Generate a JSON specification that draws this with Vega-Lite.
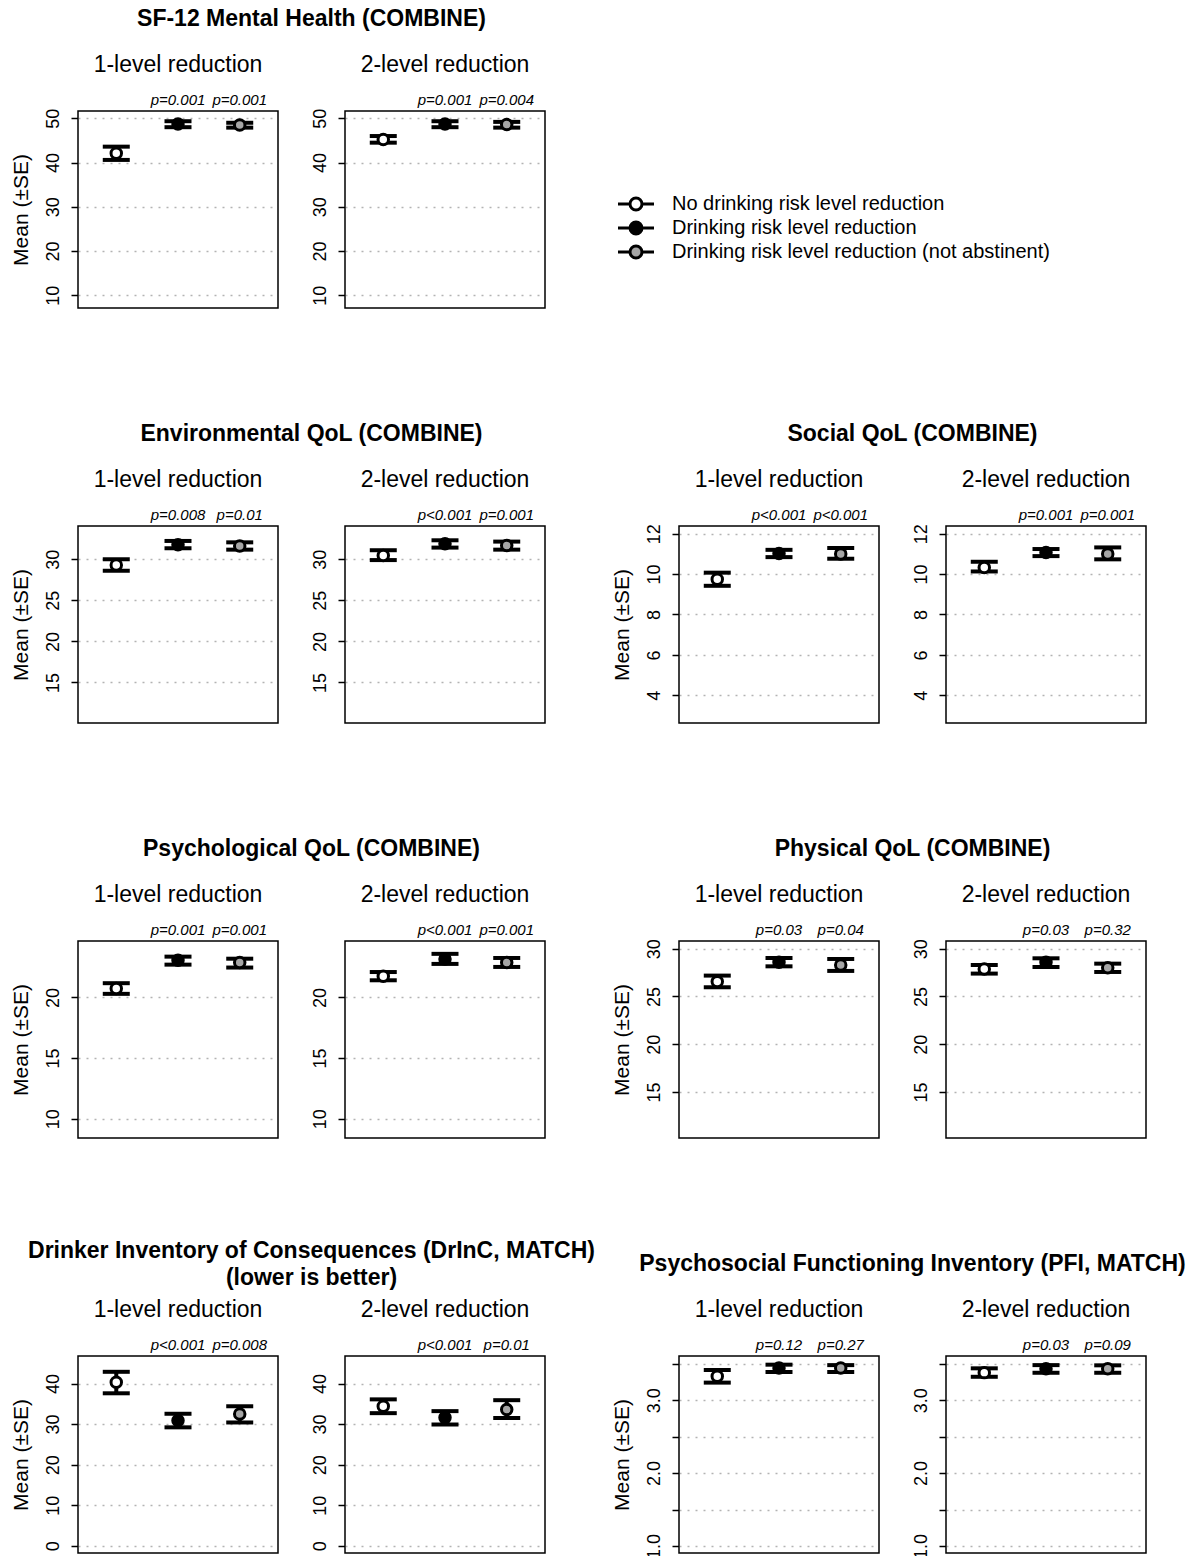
{
"$schema": "https://vega.github.io/schema/vega-lite/v6.json",
"background": "white",
"padding": {"left": 9, "top": 8, "right": 5, "bottom": 5},
"config": {
 "font": "Liberation Sans",
 "view": {"stroke": "black", "strokeWidth": 1.5},
 "axisY": {"domain": false, "labelAngle": -90, "labelFontSize": 18, "labelColor": "black", "labelPadding": 9, "labelFlush": false, "labelOverlap": false, "labelBound": false, "tickColor": "black", "tickSize": 7, "tickWidth": 1.5, "grid": true, "gridColor": "#b3b3b3", "gridDash": [2, 6], "gridWidth": 1.5, "titleFontSize": 21, "titleFontWeight": "normal", "titleColor": "black", "titlePadding": 13},
 "title": {"color": "black", "font": "Liberation Sans"},
 "legend": {"orient": "none", "legendX": 548, "legendY": 83, "symbolType": "M-3,0L-1,0M1,0L3,0M-1,0A1,1,0,1,0,1,0A1,1,0,1,0,-1,0Z", "symbolSize": 144, "symbolStrokeColor": "black", "symbolStrokeWidth": 3, "symbolOpacity": 1, "labelFontSize": 20, "labelColor": "black", "labelOffset": 26, "labelLimit": 700, "rowPadding": 0, "padding": 0}
},
"datasets": {"d": [
 {"m":"SF","lev":1,"x":1,"g":"No drinking risk level reduction","mean":42.1,"lo":40.6,"hi":43.6,"p":null},
 {"m":"SF","lev":1,"x":2,"g":"Drinking risk level reduction","mean":48.7,"lo":48.0,"hi":49.35,"p":"p=0.001"},
 {"m":"SF","lev":1,"x":3,"g":"Drinking risk level reduction (not abstinent)","mean":48.5,"lo":47.9,"hi":49.0,"p":"p=0.001"},
 {"m":"SF","lev":2,"x":1,"g":"No drinking risk level reduction","mean":45.2,"lo":44.5,"hi":46.0,"p":null},
 {"m":"SF","lev":2,"x":2,"g":"Drinking risk level reduction","mean":48.7,"lo":48.0,"hi":49.35,"p":"p=0.001"},
 {"m":"SF","lev":2,"x":3,"g":"Drinking risk level reduction (not abstinent)","mean":48.6,"lo":47.9,"hi":49.2,"p":"p=0.004"},
 {"m":"EN","lev":1,"x":1,"g":"No drinking risk level reduction","mean":29.3,"lo":28.6,"hi":30.0,"p":null},
 {"m":"EN","lev":1,"x":2,"g":"Drinking risk level reduction","mean":31.78,"lo":31.34,"hi":32.23,"p":"p=0.008"},
 {"m":"EN","lev":1,"x":3,"g":"Drinking risk level reduction (not abstinent)","mean":31.62,"lo":31.17,"hi":32.06,"p":"p=0.01"},
 {"m":"EN","lev":2,"x":1,"g":"No drinking risk level reduction","mean":30.45,"lo":29.9,"hi":31.1,"p":null},
 {"m":"EN","lev":2,"x":2,"g":"Drinking risk level reduction","mean":31.88,"lo":31.42,"hi":32.31,"p":"p<0.001"},
 {"m":"EN","lev":2,"x":3,"g":"Drinking risk level reduction (not abstinent)","mean":31.68,"lo":31.17,"hi":32.15,"p":"p=0.001"},
 {"m":"SO","lev":1,"x":1,"g":"No drinking risk level reduction","mean":9.74,"lo":9.42,"hi":10.07,"p":null},
 {"m":"SO","lev":1,"x":2,"g":"Drinking risk level reduction","mean":11.02,"lo":10.84,"hi":11.2,"p":"p<0.001"},
 {"m":"SO","lev":1,"x":3,"g":"Drinking risk level reduction (not abstinent)","mean":11.0,"lo":10.76,"hi":11.29,"p":"p<0.001"},
 {"m":"SO","lev":2,"x":1,"g":"No drinking risk level reduction","mean":10.33,"lo":10.13,"hi":10.61,"p":null},
 {"m":"SO","lev":2,"x":2,"g":"Drinking risk level reduction","mean":11.07,"lo":10.89,"hi":11.24,"p":"p=0.001"},
 {"m":"SO","lev":2,"x":3,"g":"Drinking risk level reduction (not abstinent)","mean":11.0,"lo":10.73,"hi":11.32,"p":"p=0.001"},
 {"m":"PS","lev":1,"x":1,"g":"No drinking risk level reduction","mean":20.74,"lo":20.3,"hi":21.18,"p":null},
 {"m":"PS","lev":1,"x":2,"g":"Drinking risk level reduction","mean":23.07,"lo":22.71,"hi":23.37,"p":"p=0.001"},
 {"m":"PS","lev":1,"x":3,"g":"Drinking risk level reduction (not abstinent)","mean":22.88,"lo":22.47,"hi":23.2,"p":"p=0.001"},
 {"m":"PS","lev":2,"x":1,"g":"No drinking risk level reduction","mean":21.75,"lo":21.42,"hi":22.1,"p":null},
 {"m":"PS","lev":2,"x":2,"g":"Drinking risk level reduction","mean":23.18,"lo":22.77,"hi":23.6,"p":"p<0.001"},
 {"m":"PS","lev":2,"x":3,"g":"Drinking risk level reduction (not abstinent)","mean":22.88,"lo":22.52,"hi":23.26,"p":"p=0.001"},
 {"m":"PH","lev":1,"x":1,"g":"No drinking risk level reduction","mean":26.55,"lo":25.96,"hi":27.18,"p":null},
 {"m":"PH","lev":1,"x":2,"g":"Drinking risk level reduction","mean":28.57,"lo":28.15,"hi":29.02,"p":"p=0.03"},
 {"m":"PH","lev":1,"x":3,"g":"Drinking risk level reduction (not abstinent)","mean":28.29,"lo":27.67,"hi":28.92,"p":"p=0.04"},
 {"m":"PH","lev":2,"x":1,"g":"No drinking risk level reduction","mean":27.87,"lo":27.39,"hi":28.29,"p":null},
 {"m":"PH","lev":2,"x":2,"g":"Drinking risk level reduction","mean":28.57,"lo":28.08,"hi":28.99,"p":"p=0.03"},
 {"m":"PH","lev":2,"x":3,"g":"Drinking risk level reduction (not abstinent)","mean":28.0,"lo":27.56,"hi":28.43,"p":"p=0.32"},
 {"m":"DR","lev":1,"x":1,"g":"No drinking risk level reduction","mean":40.3,"lo":37.6,"hi":42.9,"p":null},
 {"m":"DR","lev":1,"x":2,"g":"Drinking risk level reduction","mean":30.9,"lo":29.2,"hi":32.55,"p":"p<0.001"},
 {"m":"DR","lev":1,"x":3,"g":"Drinking risk level reduction (not abstinent)","mean":32.5,"lo":30.4,"hi":34.4,"p":"p=0.008"},
 {"m":"DR","lev":2,"x":1,"g":"No drinking risk level reduction","mean":34.4,"lo":32.7,"hi":36.1,"p":null},
 {"m":"DR","lev":2,"x":2,"g":"Drinking risk level reduction","mean":31.6,"lo":29.9,"hi":33.2,"p":"p<0.001"},
 {"m":"DR","lev":2,"x":3,"g":"Drinking risk level reduction (not abstinent)","mean":33.6,"lo":31.5,"hi":35.9,"p":"p=0.01"},
 {"m":"PF","lev":1,"x":1,"g":"No drinking risk level reduction","mean":3.327,"lo":3.24,"hi":3.413,"p":null},
 {"m":"PF","lev":1,"x":2,"g":"Drinking risk level reduction","mean":3.44,"lo":3.386,"hi":3.486,"p":"p=0.12"},
 {"m":"PF","lev":1,"x":3,"g":"Drinking risk level reduction (not abstinent)","mean":3.44,"lo":3.386,"hi":3.48,"p":"p=0.27"},
 {"m":"PF","lev":2,"x":1,"g":"No drinking risk level reduction","mean":3.377,"lo":3.32,"hi":3.436,"p":null},
 {"m":"PF","lev":2,"x":2,"g":"Drinking risk level reduction","mean":3.43,"lo":3.375,"hi":3.48,"p":"p=0.03"},
 {"m":"PF","lev":2,"x":3,"g":"Drinking risk level reduction (not abstinent)","mean":3.43,"lo":3.375,"hi":3.477,"p":"p=0.09"}
]},
"columns": 7,
"spacing": {"row": 218, "column": 0},
"bounds": "flush",
"align": "each",
"concat": [
 {"width": 200, "height": 197, "title": {"text": "1-level reduction", "fontSize": 23, "fontWeight": "normal", "frame": "group", "anchor": "middle", "offset": 16},
  "data": {"name": "d"}, "transform": [{"filter": "datum.m == 'SF' && datum.lev == 1"}],
  "encoding": {"x": {"field": "x", "type": "quantitative", "scale": {"domain": [0.38, 3.62]}, "axis": null}},
  "layer": [
   {"mark": {"type": "rule", "strokeWidth": 4, "color": "black"}, "encoding": {"y": {"field": "lo", "type": "quantitative", "scale": {"domain": [7.13, 51.66], "zero": false, "nice": false}, "axis": {"values": [10, 20, 30, 40, 50], "title": "Mean (±SE)"}}, "y2": {"field": "hi"}}},
   {"mark": {"type": "tick", "orient": "horizontal", "size": 27, "thickness": 4, "color": "black", "opacity": 1}, "encoding": {"y": {"field": "lo", "type": "quantitative", "scale": {"domain": [7.13, 51.66], "zero": false, "nice": false}, "axis": {"values": [10, 20, 30, 40, 50], "title": "Mean (±SE)"}}}},
   {"mark": {"type": "tick", "orient": "horizontal", "size": 27, "thickness": 4, "color": "black", "opacity": 1}, "encoding": {"y": {"field": "hi", "type": "quantitative", "scale": {"domain": [7.13, 51.66], "zero": false, "nice": false}, "axis": {"values": [10, 20, 30, 40, 50], "title": "Mean (±SE)"}}}},
   {"mark": {"type": "point", "shape": "circle", "filled": true, "size": 110, "stroke": "black", "strokeWidth": 3, "opacity": 1}, "encoding": {"y": {"field": "mean", "type": "quantitative", "scale": {"domain": [7.13, 51.66], "zero": false, "nice": false}, "axis": {"values": [10, 20, 30, 40, 50], "title": "Mean (±SE)"}}, "fill": {"field": "g", "type": "nominal", "title": null, "scale": {"domain": ["No drinking risk level reduction", "Drinking risk level reduction", "Drinking risk level reduction (not abstinent)"], "range": ["white", "black", "#a6a6a6"]}}}},
   {"transform": [{"filter": "isValid(datum.p)"}], "mark": {"type": "text", "fontStyle": "italic", "fontSize": 15, "baseline": "alphabetic", "dy": -6, "color": "black"}, "encoding": {"y": {"datum": 51.66, "type": "quantitative", "scale": {"domain": [7.13, 51.66], "zero": false, "nice": false}, "axis": {"values": [10, 20, 30, 40, 50], "title": "Mean (±SE)"}}, "text": {"field": "p"}}}
  ]},
 {"width": 67, "height": 197, "view": {"stroke": null}, "data": {"values": []}, "mark": "point", "title": {"text": "SF-12 Mental Health (COMBINE)", "fontSize": 23, "fontWeight": "bold", "anchor": "middle", "frame": "group", "offset": 80}},
 {"width": 200, "height": 197, "title": {"text": "2-level reduction", "fontSize": 23, "fontWeight": "normal", "frame": "group", "anchor": "middle", "offset": 16},
  "data": {"name": "d"}, "transform": [{"filter": "datum.m == 'SF' && datum.lev == 2"}],
  "encoding": {"x": {"field": "x", "type": "quantitative", "scale": {"domain": [0.38, 3.62]}, "axis": null}},
  "layer": [
   {"mark": {"type": "rule", "strokeWidth": 4, "color": "black"}, "encoding": {"y": {"field": "lo", "type": "quantitative", "scale": {"domain": [7.13, 51.66], "zero": false, "nice": false}, "axis": {"values": [10, 20, 30, 40, 50], "title": null}}, "y2": {"field": "hi"}}},
   {"mark": {"type": "tick", "orient": "horizontal", "size": 27, "thickness": 4, "color": "black", "opacity": 1}, "encoding": {"y": {"field": "lo", "type": "quantitative", "scale": {"domain": [7.13, 51.66], "zero": false, "nice": false}, "axis": {"values": [10, 20, 30, 40, 50], "title": null}}}},
   {"mark": {"type": "tick", "orient": "horizontal", "size": 27, "thickness": 4, "color": "black", "opacity": 1}, "encoding": {"y": {"field": "hi", "type": "quantitative", "scale": {"domain": [7.13, 51.66], "zero": false, "nice": false}, "axis": {"values": [10, 20, 30, 40, 50], "title": null}}}},
   {"mark": {"type": "point", "shape": "circle", "filled": true, "size": 110, "stroke": "black", "strokeWidth": 3, "opacity": 1}, "encoding": {"y": {"field": "mean", "type": "quantitative", "scale": {"domain": [7.13, 51.66], "zero": false, "nice": false}, "axis": {"values": [10, 20, 30, 40, 50], "title": null}}, "fill": {"field": "g", "type": "nominal", "title": null, "scale": {"domain": ["No drinking risk level reduction", "Drinking risk level reduction", "Drinking risk level reduction (not abstinent)"], "range": ["white", "black", "#a6a6a6"]}}}},
   {"transform": [{"filter": "isValid(datum.p)"}], "mark": {"type": "text", "fontStyle": "italic", "fontSize": 15, "baseline": "alphabetic", "dy": -6, "color": "black"}, "encoding": {"y": {"datum": 51.66, "type": "quantitative", "scale": {"domain": [7.13, 51.66], "zero": false, "nice": false}, "axis": {"values": [10, 20, 30, 40, 50], "title": null}}, "text": {"field": "p"}}}
  ]},
 {"width": 134, "height": 1, "view": {"stroke": null}, "data": {"values": []}, "mark": "point"},
 {"width": 1, "height": 1, "view": {"stroke": null}, "data": {"values": []}, "mark": "point"},
 {"width": 1, "height": 1, "view": {"stroke": null}, "data": {"values": []}, "mark": "point"},
 {"width": 1, "height": 1, "view": {"stroke": null}, "data": {"values": []}, "mark": "point"},

 {"width": 200, "height": 197, "title": {"text": "1-level reduction", "fontSize": 23, "fontWeight": "normal", "frame": "group", "anchor": "middle", "offset": 16},
  "data": {"name": "d"}, "transform": [{"filter": "datum.m == 'EN' && datum.lev == 1"}],
  "encoding": {"x": {"field": "x", "type": "quantitative", "scale": {"domain": [0.38, 3.62]}, "axis": null}},
  "layer": [
   {"mark": {"type": "rule", "strokeWidth": 4, "color": "black"}, "encoding": {"y": {"field": "lo", "type": "quantitative", "scale": {"domain": [10.06, 34.05], "zero": false, "nice": false}, "axis": {"values": [15, 20, 25, 30], "title": "Mean (±SE)"}}, "y2": {"field": "hi"}}},
   {"mark": {"type": "tick", "orient": "horizontal", "size": 27, "thickness": 4, "color": "black", "opacity": 1}, "encoding": {"y": {"field": "lo", "type": "quantitative", "scale": {"domain": [10.06, 34.05], "zero": false, "nice": false}, "axis": {"values": [15, 20, 25, 30], "title": "Mean (±SE)"}}}},
   {"mark": {"type": "tick", "orient": "horizontal", "size": 27, "thickness": 4, "color": "black", "opacity": 1}, "encoding": {"y": {"field": "hi", "type": "quantitative", "scale": {"domain": [10.06, 34.05], "zero": false, "nice": false}, "axis": {"values": [15, 20, 25, 30], "title": "Mean (±SE)"}}}},
   {"mark": {"type": "point", "shape": "circle", "filled": true, "size": 110, "stroke": "black", "strokeWidth": 3, "opacity": 1}, "encoding": {"y": {"field": "mean", "type": "quantitative", "scale": {"domain": [10.06, 34.05], "zero": false, "nice": false}, "axis": {"values": [15, 20, 25, 30], "title": "Mean (±SE)"}}, "fill": {"field": "g", "type": "nominal", "title": null, "scale": {"domain": ["No drinking risk level reduction", "Drinking risk level reduction", "Drinking risk level reduction (not abstinent)"], "range": ["white", "black", "#a6a6a6"]}}}},
   {"transform": [{"filter": "isValid(datum.p)"}], "mark": {"type": "text", "fontStyle": "italic", "fontSize": 15, "baseline": "alphabetic", "dy": -6, "color": "black"}, "encoding": {"y": {"datum": 34.05, "type": "quantitative", "scale": {"domain": [10.06, 34.05], "zero": false, "nice": false}, "axis": {"values": [15, 20, 25, 30], "title": "Mean (±SE)"}}, "text": {"field": "p"}}}
  ]},
 {"width": 67, "height": 197, "view": {"stroke": null}, "data": {"values": []}, "mark": "point", "title": {"text": "Environmental QoL (COMBINE)", "fontSize": 23, "fontWeight": "bold", "anchor": "middle", "frame": "group", "offset": 80}},
 {"width": 200, "height": 197, "title": {"text": "2-level reduction", "fontSize": 23, "fontWeight": "normal", "frame": "group", "anchor": "middle", "offset": 16},
  "data": {"name": "d"}, "transform": [{"filter": "datum.m == 'EN' && datum.lev == 2"}],
  "encoding": {"x": {"field": "x", "type": "quantitative", "scale": {"domain": [0.38, 3.62]}, "axis": null}},
  "layer": [
   {"mark": {"type": "rule", "strokeWidth": 4, "color": "black"}, "encoding": {"y": {"field": "lo", "type": "quantitative", "scale": {"domain": [10.06, 34.05], "zero": false, "nice": false}, "axis": {"values": [15, 20, 25, 30], "title": null}}, "y2": {"field": "hi"}}},
   {"mark": {"type": "tick", "orient": "horizontal", "size": 27, "thickness": 4, "color": "black", "opacity": 1}, "encoding": {"y": {"field": "lo", "type": "quantitative", "scale": {"domain": [10.06, 34.05], "zero": false, "nice": false}, "axis": {"values": [15, 20, 25, 30], "title": null}}}},
   {"mark": {"type": "tick", "orient": "horizontal", "size": 27, "thickness": 4, "color": "black", "opacity": 1}, "encoding": {"y": {"field": "hi", "type": "quantitative", "scale": {"domain": [10.06, 34.05], "zero": false, "nice": false}, "axis": {"values": [15, 20, 25, 30], "title": null}}}},
   {"mark": {"type": "point", "shape": "circle", "filled": true, "size": 110, "stroke": "black", "strokeWidth": 3, "opacity": 1}, "encoding": {"y": {"field": "mean", "type": "quantitative", "scale": {"domain": [10.06, 34.05], "zero": false, "nice": false}, "axis": {"values": [15, 20, 25, 30], "title": null}}, "fill": {"field": "g", "type": "nominal", "title": null, "scale": {"domain": ["No drinking risk level reduction", "Drinking risk level reduction", "Drinking risk level reduction (not abstinent)"], "range": ["white", "black", "#a6a6a6"]}}}},
   {"transform": [{"filter": "isValid(datum.p)"}], "mark": {"type": "text", "fontStyle": "italic", "fontSize": 15, "baseline": "alphabetic", "dy": -6, "color": "black"}, "encoding": {"y": {"datum": 34.05, "type": "quantitative", "scale": {"domain": [10.06, 34.05], "zero": false, "nice": false}, "axis": {"values": [15, 20, 25, 30], "title": null}}, "text": {"field": "p"}}}
  ]},
 {"width": 134, "height": 1, "view": {"stroke": null}, "data": {"values": []}, "mark": "point"},
 {"width": 200, "height": 197, "title": {"text": "1-level reduction", "fontSize": 23, "fontWeight": "normal", "frame": "group", "anchor": "middle", "offset": 16},
  "data": {"name": "d"}, "transform": [{"filter": "datum.m == 'SO' && datum.lev == 1"}],
  "encoding": {"x": {"field": "x", "type": "quantitative", "scale": {"domain": [0.38, 3.62]}, "axis": null}},
  "layer": [
   {"mark": {"type": "rule", "strokeWidth": 4, "color": "black"}, "encoding": {"y": {"field": "lo", "type": "quantitative", "scale": {"domain": [2.63, 12.38], "zero": false, "nice": false}, "axis": {"values": [4, 6, 8, 10, 12], "title": "Mean (±SE)"}}, "y2": {"field": "hi"}}},
   {"mark": {"type": "tick", "orient": "horizontal", "size": 27, "thickness": 4, "color": "black", "opacity": 1}, "encoding": {"y": {"field": "lo", "type": "quantitative", "scale": {"domain": [2.63, 12.38], "zero": false, "nice": false}, "axis": {"values": [4, 6, 8, 10, 12], "title": "Mean (±SE)"}}}},
   {"mark": {"type": "tick", "orient": "horizontal", "size": 27, "thickness": 4, "color": "black", "opacity": 1}, "encoding": {"y": {"field": "hi", "type": "quantitative", "scale": {"domain": [2.63, 12.38], "zero": false, "nice": false}, "axis": {"values": [4, 6, 8, 10, 12], "title": "Mean (±SE)"}}}},
   {"mark": {"type": "point", "shape": "circle", "filled": true, "size": 110, "stroke": "black", "strokeWidth": 3, "opacity": 1}, "encoding": {"y": {"field": "mean", "type": "quantitative", "scale": {"domain": [2.63, 12.38], "zero": false, "nice": false}, "axis": {"values": [4, 6, 8, 10, 12], "title": "Mean (±SE)"}}, "fill": {"field": "g", "type": "nominal", "title": null, "scale": {"domain": ["No drinking risk level reduction", "Drinking risk level reduction", "Drinking risk level reduction (not abstinent)"], "range": ["white", "black", "#a6a6a6"]}}}},
   {"transform": [{"filter": "isValid(datum.p)"}], "mark": {"type": "text", "fontStyle": "italic", "fontSize": 15, "baseline": "alphabetic", "dy": -6, "color": "black"}, "encoding": {"y": {"datum": 12.38, "type": "quantitative", "scale": {"domain": [2.63, 12.38], "zero": false, "nice": false}, "axis": {"values": [4, 6, 8, 10, 12], "title": "Mean (±SE)"}}, "text": {"field": "p"}}}
  ]},
 {"width": 67, "height": 197, "view": {"stroke": null}, "data": {"values": []}, "mark": "point", "title": {"text": "Social QoL (COMBINE)", "fontSize": 23, "fontWeight": "bold", "anchor": "middle", "frame": "group", "offset": 80}},
 {"width": 200, "height": 197, "title": {"text": "2-level reduction", "fontSize": 23, "fontWeight": "normal", "frame": "group", "anchor": "middle", "offset": 16},
  "data": {"name": "d"}, "transform": [{"filter": "datum.m == 'SO' && datum.lev == 2"}],
  "encoding": {"x": {"field": "x", "type": "quantitative", "scale": {"domain": [0.38, 3.62]}, "axis": null}},
  "layer": [
   {"mark": {"type": "rule", "strokeWidth": 4, "color": "black"}, "encoding": {"y": {"field": "lo", "type": "quantitative", "scale": {"domain": [2.63, 12.38], "zero": false, "nice": false}, "axis": {"values": [4, 6, 8, 10, 12], "title": null}}, "y2": {"field": "hi"}}},
   {"mark": {"type": "tick", "orient": "horizontal", "size": 27, "thickness": 4, "color": "black", "opacity": 1}, "encoding": {"y": {"field": "lo", "type": "quantitative", "scale": {"domain": [2.63, 12.38], "zero": false, "nice": false}, "axis": {"values": [4, 6, 8, 10, 12], "title": null}}}},
   {"mark": {"type": "tick", "orient": "horizontal", "size": 27, "thickness": 4, "color": "black", "opacity": 1}, "encoding": {"y": {"field": "hi", "type": "quantitative", "scale": {"domain": [2.63, 12.38], "zero": false, "nice": false}, "axis": {"values": [4, 6, 8, 10, 12], "title": null}}}},
   {"mark": {"type": "point", "shape": "circle", "filled": true, "size": 110, "stroke": "black", "strokeWidth": 3, "opacity": 1}, "encoding": {"y": {"field": "mean", "type": "quantitative", "scale": {"domain": [2.63, 12.38], "zero": false, "nice": false}, "axis": {"values": [4, 6, 8, 10, 12], "title": null}}, "fill": {"field": "g", "type": "nominal", "title": null, "scale": {"domain": ["No drinking risk level reduction", "Drinking risk level reduction", "Drinking risk level reduction (not abstinent)"], "range": ["white", "black", "#a6a6a6"]}}}},
   {"transform": [{"filter": "isValid(datum.p)"}], "mark": {"type": "text", "fontStyle": "italic", "fontSize": 15, "baseline": "alphabetic", "dy": -6, "color": "black"}, "encoding": {"y": {"datum": 12.38, "type": "quantitative", "scale": {"domain": [2.63, 12.38], "zero": false, "nice": false}, "axis": {"values": [4, 6, 8, 10, 12], "title": null}}, "text": {"field": "p"}}}
  ]},

 {"width": 200, "height": 197, "title": {"text": "1-level reduction", "fontSize": 23, "fontWeight": "normal", "frame": "group", "anchor": "middle", "offset": 16},
  "data": {"name": "d"}, "transform": [{"filter": "datum.m == 'PS' && datum.lev == 1"}],
  "encoding": {"x": {"field": "x", "type": "quantitative", "scale": {"domain": [0.38, 3.62]}, "axis": null}},
  "layer": [
   {"mark": {"type": "rule", "strokeWidth": 4, "color": "black"}, "encoding": {"y": {"field": "lo", "type": "quantitative", "scale": {"domain": [8.41, 24.66], "zero": false, "nice": false}, "axis": {"values": [10, 15, 20], "title": "Mean (±SE)"}}, "y2": {"field": "hi"}}},
   {"mark": {"type": "tick", "orient": "horizontal", "size": 27, "thickness": 4, "color": "black", "opacity": 1}, "encoding": {"y": {"field": "lo", "type": "quantitative", "scale": {"domain": [8.41, 24.66], "zero": false, "nice": false}, "axis": {"values": [10, 15, 20], "title": "Mean (±SE)"}}}},
   {"mark": {"type": "tick", "orient": "horizontal", "size": 27, "thickness": 4, "color": "black", "opacity": 1}, "encoding": {"y": {"field": "hi", "type": "quantitative", "scale": {"domain": [8.41, 24.66], "zero": false, "nice": false}, "axis": {"values": [10, 15, 20], "title": "Mean (±SE)"}}}},
   {"mark": {"type": "point", "shape": "circle", "filled": true, "size": 110, "stroke": "black", "strokeWidth": 3, "opacity": 1}, "encoding": {"y": {"field": "mean", "type": "quantitative", "scale": {"domain": [8.41, 24.66], "zero": false, "nice": false}, "axis": {"values": [10, 15, 20], "title": "Mean (±SE)"}}, "fill": {"field": "g", "type": "nominal", "title": null, "scale": {"domain": ["No drinking risk level reduction", "Drinking risk level reduction", "Drinking risk level reduction (not abstinent)"], "range": ["white", "black", "#a6a6a6"]}}}},
   {"transform": [{"filter": "isValid(datum.p)"}], "mark": {"type": "text", "fontStyle": "italic", "fontSize": 15, "baseline": "alphabetic", "dy": -6, "color": "black"}, "encoding": {"y": {"datum": 24.66, "type": "quantitative", "scale": {"domain": [8.41, 24.66], "zero": false, "nice": false}, "axis": {"values": [10, 15, 20], "title": "Mean (±SE)"}}, "text": {"field": "p"}}}
  ]},
 {"width": 67, "height": 197, "view": {"stroke": null}, "data": {"values": []}, "mark": "point", "title": {"text": "Psychological QoL (COMBINE)", "fontSize": 23, "fontWeight": "bold", "anchor": "middle", "frame": "group", "offset": 80}},
 {"width": 200, "height": 197, "title": {"text": "2-level reduction", "fontSize": 23, "fontWeight": "normal", "frame": "group", "anchor": "middle", "offset": 16},
  "data": {"name": "d"}, "transform": [{"filter": "datum.m == 'PS' && datum.lev == 2"}],
  "encoding": {"x": {"field": "x", "type": "quantitative", "scale": {"domain": [0.38, 3.62]}, "axis": null}},
  "layer": [
   {"mark": {"type": "rule", "strokeWidth": 4, "color": "black"}, "encoding": {"y": {"field": "lo", "type": "quantitative", "scale": {"domain": [8.41, 24.66], "zero": false, "nice": false}, "axis": {"values": [10, 15, 20], "title": null}}, "y2": {"field": "hi"}}},
   {"mark": {"type": "tick", "orient": "horizontal", "size": 27, "thickness": 4, "color": "black", "opacity": 1}, "encoding": {"y": {"field": "lo", "type": "quantitative", "scale": {"domain": [8.41, 24.66], "zero": false, "nice": false}, "axis": {"values": [10, 15, 20], "title": null}}}},
   {"mark": {"type": "tick", "orient": "horizontal", "size": 27, "thickness": 4, "color": "black", "opacity": 1}, "encoding": {"y": {"field": "hi", "type": "quantitative", "scale": {"domain": [8.41, 24.66], "zero": false, "nice": false}, "axis": {"values": [10, 15, 20], "title": null}}}},
   {"mark": {"type": "point", "shape": "circle", "filled": true, "size": 110, "stroke": "black", "strokeWidth": 3, "opacity": 1}, "encoding": {"y": {"field": "mean", "type": "quantitative", "scale": {"domain": [8.41, 24.66], "zero": false, "nice": false}, "axis": {"values": [10, 15, 20], "title": null}}, "fill": {"field": "g", "type": "nominal", "title": null, "scale": {"domain": ["No drinking risk level reduction", "Drinking risk level reduction", "Drinking risk level reduction (not abstinent)"], "range": ["white", "black", "#a6a6a6"]}}}},
   {"transform": [{"filter": "isValid(datum.p)"}], "mark": {"type": "text", "fontStyle": "italic", "fontSize": 15, "baseline": "alphabetic", "dy": -6, "color": "black"}, "encoding": {"y": {"datum": 24.66, "type": "quantitative", "scale": {"domain": [8.41, 24.66], "zero": false, "nice": false}, "axis": {"values": [10, 15, 20], "title": null}}, "text": {"field": "p"}}}
  ]},
 {"width": 134, "height": 1, "view": {"stroke": null}, "data": {"values": []}, "mark": "point"},
 {"width": 200, "height": 197, "title": {"text": "1-level reduction", "fontSize": 23, "fontWeight": "normal", "frame": "group", "anchor": "middle", "offset": 16},
  "data": {"name": "d"}, "transform": [{"filter": "datum.m == 'PH' && datum.lev == 1"}],
  "encoding": {"x": {"field": "x", "type": "quantitative", "scale": {"domain": [0.38, 3.62]}, "axis": null}},
  "layer": [
   {"mark": {"type": "rule", "strokeWidth": 4, "color": "black"}, "encoding": {"y": {"field": "lo", "type": "quantitative", "scale": {"domain": [10.19, 30.8], "zero": false, "nice": false}, "axis": {"values": [15, 20, 25, 30], "title": "Mean (±SE)"}}, "y2": {"field": "hi"}}},
   {"mark": {"type": "tick", "orient": "horizontal", "size": 27, "thickness": 4, "color": "black", "opacity": 1}, "encoding": {"y": {"field": "lo", "type": "quantitative", "scale": {"domain": [10.19, 30.8], "zero": false, "nice": false}, "axis": {"values": [15, 20, 25, 30], "title": "Mean (±SE)"}}}},
   {"mark": {"type": "tick", "orient": "horizontal", "size": 27, "thickness": 4, "color": "black", "opacity": 1}, "encoding": {"y": {"field": "hi", "type": "quantitative", "scale": {"domain": [10.19, 30.8], "zero": false, "nice": false}, "axis": {"values": [15, 20, 25, 30], "title": "Mean (±SE)"}}}},
   {"mark": {"type": "point", "shape": "circle", "filled": true, "size": 110, "stroke": "black", "strokeWidth": 3, "opacity": 1}, "encoding": {"y": {"field": "mean", "type": "quantitative", "scale": {"domain": [10.19, 30.8], "zero": false, "nice": false}, "axis": {"values": [15, 20, 25, 30], "title": "Mean (±SE)"}}, "fill": {"field": "g", "type": "nominal", "title": null, "scale": {"domain": ["No drinking risk level reduction", "Drinking risk level reduction", "Drinking risk level reduction (not abstinent)"], "range": ["white", "black", "#a6a6a6"]}}}},
   {"transform": [{"filter": "isValid(datum.p)"}], "mark": {"type": "text", "fontStyle": "italic", "fontSize": 15, "baseline": "alphabetic", "dy": -6, "color": "black"}, "encoding": {"y": {"datum": 30.8, "type": "quantitative", "scale": {"domain": [10.19, 30.8], "zero": false, "nice": false}, "axis": {"values": [15, 20, 25, 30], "title": "Mean (±SE)"}}, "text": {"field": "p"}}}
  ]},
 {"width": 67, "height": 197, "view": {"stroke": null}, "data": {"values": []}, "mark": "point", "title": {"text": "Physical QoL (COMBINE)", "fontSize": 23, "fontWeight": "bold", "anchor": "middle", "frame": "group", "offset": 80}},
 {"width": 200, "height": 197, "title": {"text": "2-level reduction", "fontSize": 23, "fontWeight": "normal", "frame": "group", "anchor": "middle", "offset": 16},
  "data": {"name": "d"}, "transform": [{"filter": "datum.m == 'PH' && datum.lev == 2"}],
  "encoding": {"x": {"field": "x", "type": "quantitative", "scale": {"domain": [0.38, 3.62]}, "axis": null}},
  "layer": [
   {"mark": {"type": "rule", "strokeWidth": 4, "color": "black"}, "encoding": {"y": {"field": "lo", "type": "quantitative", "scale": {"domain": [10.19, 30.8], "zero": false, "nice": false}, "axis": {"values": [15, 20, 25, 30], "title": null}}, "y2": {"field": "hi"}}},
   {"mark": {"type": "tick", "orient": "horizontal", "size": 27, "thickness": 4, "color": "black", "opacity": 1}, "encoding": {"y": {"field": "lo", "type": "quantitative", "scale": {"domain": [10.19, 30.8], "zero": false, "nice": false}, "axis": {"values": [15, 20, 25, 30], "title": null}}}},
   {"mark": {"type": "tick", "orient": "horizontal", "size": 27, "thickness": 4, "color": "black", "opacity": 1}, "encoding": {"y": {"field": "hi", "type": "quantitative", "scale": {"domain": [10.19, 30.8], "zero": false, "nice": false}, "axis": {"values": [15, 20, 25, 30], "title": null}}}},
   {"mark": {"type": "point", "shape": "circle", "filled": true, "size": 110, "stroke": "black", "strokeWidth": 3, "opacity": 1}, "encoding": {"y": {"field": "mean", "type": "quantitative", "scale": {"domain": [10.19, 30.8], "zero": false, "nice": false}, "axis": {"values": [15, 20, 25, 30], "title": null}}, "fill": {"field": "g", "type": "nominal", "title": null, "scale": {"domain": ["No drinking risk level reduction", "Drinking risk level reduction", "Drinking risk level reduction (not abstinent)"], "range": ["white", "black", "#a6a6a6"]}}}},
   {"transform": [{"filter": "isValid(datum.p)"}], "mark": {"type": "text", "fontStyle": "italic", "fontSize": 15, "baseline": "alphabetic", "dy": -6, "color": "black"}, "encoding": {"y": {"datum": 30.8, "type": "quantitative", "scale": {"domain": [10.19, 30.8], "zero": false, "nice": false}, "axis": {"values": [15, 20, 25, 30], "title": null}}, "text": {"field": "p"}}}
  ]},

 {"width": 200, "height": 197, "title": {"text": "1-level reduction", "fontSize": 23, "fontWeight": "normal", "frame": "group", "anchor": "middle", "offset": 16},
  "data": {"name": "d"}, "transform": [{"filter": "datum.m == 'DR' && datum.lev == 1"}],
  "encoding": {"x": {"field": "x", "type": "quantitative", "scale": {"domain": [0.38, 3.62]}, "axis": null}},
  "layer": [
   {"mark": {"type": "rule", "strokeWidth": 4, "color": "black"}, "encoding": {"y": {"field": "lo", "type": "quantitative", "scale": {"domain": [-1.8, 46.8], "zero": false, "nice": false}, "axis": {"values": [0, 10, 20, 30, 40], "title": "Mean (±SE)"}}, "y2": {"field": "hi"}}},
   {"mark": {"type": "tick", "orient": "horizontal", "size": 27, "thickness": 4, "color": "black", "opacity": 1}, "encoding": {"y": {"field": "lo", "type": "quantitative", "scale": {"domain": [-1.8, 46.8], "zero": false, "nice": false}, "axis": {"values": [0, 10, 20, 30, 40], "title": "Mean (±SE)"}}}},
   {"mark": {"type": "tick", "orient": "horizontal", "size": 27, "thickness": 4, "color": "black", "opacity": 1}, "encoding": {"y": {"field": "hi", "type": "quantitative", "scale": {"domain": [-1.8, 46.8], "zero": false, "nice": false}, "axis": {"values": [0, 10, 20, 30, 40], "title": "Mean (±SE)"}}}},
   {"mark": {"type": "point", "shape": "circle", "filled": true, "size": 110, "stroke": "black", "strokeWidth": 3, "opacity": 1}, "encoding": {"y": {"field": "mean", "type": "quantitative", "scale": {"domain": [-1.8, 46.8], "zero": false, "nice": false}, "axis": {"values": [0, 10, 20, 30, 40], "title": "Mean (±SE)"}}, "fill": {"field": "g", "type": "nominal", "title": null, "scale": {"domain": ["No drinking risk level reduction", "Drinking risk level reduction", "Drinking risk level reduction (not abstinent)"], "range": ["white", "black", "#a6a6a6"]}}}},
   {"transform": [{"filter": "isValid(datum.p)"}], "mark": {"type": "text", "fontStyle": "italic", "fontSize": 15, "baseline": "alphabetic", "dy": -6, "color": "black"}, "encoding": {"y": {"datum": 46.8, "type": "quantitative", "scale": {"domain": [-1.8, 46.8], "zero": false, "nice": false}, "axis": {"values": [0, 10, 20, 30, 40], "title": "Mean (±SE)"}}, "text": {"field": "p"}}}
  ]},
 {"width": 67, "height": 197, "view": {"stroke": null}, "data": {"values": []}, "mark": "point", "title": {"text": ["Drinker Inventory of Consequences (DrInC, MATCH)", "(lower is better)"], "lineHeight": 27, "fontSize": 23, "fontWeight": "bold", "anchor": "middle", "frame": "group", "offset": 66}},
 {"width": 200, "height": 197, "title": {"text": "2-level reduction", "fontSize": 23, "fontWeight": "normal", "frame": "group", "anchor": "middle", "offset": 16},
  "data": {"name": "d"}, "transform": [{"filter": "datum.m == 'DR' && datum.lev == 2"}],
  "encoding": {"x": {"field": "x", "type": "quantitative", "scale": {"domain": [0.38, 3.62]}, "axis": null}},
  "layer": [
   {"mark": {"type": "rule", "strokeWidth": 4, "color": "black"}, "encoding": {"y": {"field": "lo", "type": "quantitative", "scale": {"domain": [-1.8, 46.8], "zero": false, "nice": false}, "axis": {"values": [0, 10, 20, 30, 40], "title": null}}, "y2": {"field": "hi"}}},
   {"mark": {"type": "tick", "orient": "horizontal", "size": 27, "thickness": 4, "color": "black", "opacity": 1}, "encoding": {"y": {"field": "lo", "type": "quantitative", "scale": {"domain": [-1.8, 46.8], "zero": false, "nice": false}, "axis": {"values": [0, 10, 20, 30, 40], "title": null}}}},
   {"mark": {"type": "tick", "orient": "horizontal", "size": 27, "thickness": 4, "color": "black", "opacity": 1}, "encoding": {"y": {"field": "hi", "type": "quantitative", "scale": {"domain": [-1.8, 46.8], "zero": false, "nice": false}, "axis": {"values": [0, 10, 20, 30, 40], "title": null}}}},
   {"mark": {"type": "point", "shape": "circle", "filled": true, "size": 110, "stroke": "black", "strokeWidth": 3, "opacity": 1}, "encoding": {"y": {"field": "mean", "type": "quantitative", "scale": {"domain": [-1.8, 46.8], "zero": false, "nice": false}, "axis": {"values": [0, 10, 20, 30, 40], "title": null}}, "fill": {"field": "g", "type": "nominal", "title": null, "scale": {"domain": ["No drinking risk level reduction", "Drinking risk level reduction", "Drinking risk level reduction (not abstinent)"], "range": ["white", "black", "#a6a6a6"]}}}},
   {"transform": [{"filter": "isValid(datum.p)"}], "mark": {"type": "text", "fontStyle": "italic", "fontSize": 15, "baseline": "alphabetic", "dy": -6, "color": "black"}, "encoding": {"y": {"datum": 46.8, "type": "quantitative", "scale": {"domain": [-1.8, 46.8], "zero": false, "nice": false}, "axis": {"values": [0, 10, 20, 30, 40], "title": null}}, "text": {"field": "p"}}}
  ]},
 {"width": 134, "height": 1, "view": {"stroke": null}, "data": {"values": []}, "mark": "point"},
 {"width": 200, "height": 197, "title": {"text": "1-level reduction", "fontSize": 23, "fontWeight": "normal", "frame": "group", "anchor": "middle", "offset": 16},
  "data": {"name": "d"}, "transform": [{"filter": "datum.m == 'PF' && datum.lev == 1"}],
  "encoding": {"x": {"field": "x", "type": "quantitative", "scale": {"domain": [0.38, 3.62]}, "axis": null}},
  "layer": [
   {"mark": {"type": "rule", "strokeWidth": 4, "color": "black"}, "encoding": {"y": {"field": "lo", "type": "quantitative", "scale": {"domain": [0.904, 3.605], "zero": false, "nice": false}, "axis": {"values": [1, 1.5, 2, 2.5, 3, 3.5], "labelExpr": "datum.value % 1 == 0 ? format(datum.value, '.1f') : ''", "title": "Mean (±SE)"}}, "y2": {"field": "hi"}}},
   {"mark": {"type": "tick", "orient": "horizontal", "size": 27, "thickness": 4, "color": "black", "opacity": 1}, "encoding": {"y": {"field": "lo", "type": "quantitative", "scale": {"domain": [0.904, 3.605], "zero": false, "nice": false}, "axis": {"values": [1, 1.5, 2, 2.5, 3, 3.5], "labelExpr": "datum.value % 1 == 0 ? format(datum.value, '.1f') : ''", "title": "Mean (±SE)"}}}},
   {"mark": {"type": "tick", "orient": "horizontal", "size": 27, "thickness": 4, "color": "black", "opacity": 1}, "encoding": {"y": {"field": "hi", "type": "quantitative", "scale": {"domain": [0.904, 3.605], "zero": false, "nice": false}, "axis": {"values": [1, 1.5, 2, 2.5, 3, 3.5], "labelExpr": "datum.value % 1 == 0 ? format(datum.value, '.1f') : ''", "title": "Mean (±SE)"}}}},
   {"mark": {"type": "point", "shape": "circle", "filled": true, "size": 110, "stroke": "black", "strokeWidth": 3, "opacity": 1}, "encoding": {"y": {"field": "mean", "type": "quantitative", "scale": {"domain": [0.904, 3.605], "zero": false, "nice": false}, "axis": {"values": [1, 1.5, 2, 2.5, 3, 3.5], "labelExpr": "datum.value % 1 == 0 ? format(datum.value, '.1f') : ''", "title": "Mean (±SE)"}}, "fill": {"field": "g", "type": "nominal", "title": null, "scale": {"domain": ["No drinking risk level reduction", "Drinking risk level reduction", "Drinking risk level reduction (not abstinent)"], "range": ["white", "black", "#a6a6a6"]}}}},
   {"transform": [{"filter": "isValid(datum.p)"}], "mark": {"type": "text", "fontStyle": "italic", "fontSize": 15, "baseline": "alphabetic", "dy": -6, "color": "black"}, "encoding": {"y": {"datum": 3.605, "type": "quantitative", "scale": {"domain": [0.904, 3.605], "zero": false, "nice": false}, "axis": {"values": [1, 1.5, 2, 2.5, 3, 3.5], "labelExpr": "datum.value % 1 == 0 ? format(datum.value, '.1f') : ''", "title": "Mean (±SE)"}}, "text": {"field": "p"}}}
  ]},
 {"width": 67, "height": 197, "view": {"stroke": null}, "data": {"values": []}, "mark": "point", "title": {"text": "Psychosocial Functioning Inventory (PFI, MATCH)", "fontSize": 23, "fontWeight": "bold", "anchor": "middle", "frame": "group", "offset": 80}},
 {"width": 200, "height": 197, "title": {"text": "2-level reduction", "fontSize": 23, "fontWeight": "normal", "frame": "group", "anchor": "middle", "offset": 16},
  "data": {"name": "d"}, "transform": [{"filter": "datum.m == 'PF' && datum.lev == 2"}],
  "encoding": {"x": {"field": "x", "type": "quantitative", "scale": {"domain": [0.38, 3.62]}, "axis": null}},
  "layer": [
   {"mark": {"type": "rule", "strokeWidth": 4, "color": "black"}, "encoding": {"y": {"field": "lo", "type": "quantitative", "scale": {"domain": [0.904, 3.605], "zero": false, "nice": false}, "axis": {"values": [1, 1.5, 2, 2.5, 3, 3.5], "labelExpr": "datum.value % 1 == 0 ? format(datum.value, '.1f') : ''", "title": null}}, "y2": {"field": "hi"}}},
   {"mark": {"type": "tick", "orient": "horizontal", "size": 27, "thickness": 4, "color": "black", "opacity": 1}, "encoding": {"y": {"field": "lo", "type": "quantitative", "scale": {"domain": [0.904, 3.605], "zero": false, "nice": false}, "axis": {"values": [1, 1.5, 2, 2.5, 3, 3.5], "labelExpr": "datum.value % 1 == 0 ? format(datum.value, '.1f') : ''", "title": null}}}},
   {"mark": {"type": "tick", "orient": "horizontal", "size": 27, "thickness": 4, "color": "black", "opacity": 1}, "encoding": {"y": {"field": "hi", "type": "quantitative", "scale": {"domain": [0.904, 3.605], "zero": false, "nice": false}, "axis": {"values": [1, 1.5, 2, 2.5, 3, 3.5], "labelExpr": "datum.value % 1 == 0 ? format(datum.value, '.1f') : ''", "title": null}}}},
   {"mark": {"type": "point", "shape": "circle", "filled": true, "size": 110, "stroke": "black", "strokeWidth": 3, "opacity": 1}, "encoding": {"y": {"field": "mean", "type": "quantitative", "scale": {"domain": [0.904, 3.605], "zero": false, "nice": false}, "axis": {"values": [1, 1.5, 2, 2.5, 3, 3.5], "labelExpr": "datum.value % 1 == 0 ? format(datum.value, '.1f') : ''", "title": null}}, "fill": {"field": "g", "type": "nominal", "title": null, "scale": {"domain": ["No drinking risk level reduction", "Drinking risk level reduction", "Drinking risk level reduction (not abstinent)"], "range": ["white", "black", "#a6a6a6"]}}}},
   {"transform": [{"filter": "isValid(datum.p)"}], "mark": {"type": "text", "fontStyle": "italic", "fontSize": 15, "baseline": "alphabetic", "dy": -6, "color": "black"}, "encoding": {"y": {"datum": 3.605, "type": "quantitative", "scale": {"domain": [0.904, 3.605], "zero": false, "nice": false}, "axis": {"values": [1, 1.5, 2, 2.5, 3, 3.5], "labelExpr": "datum.value % 1 == 0 ? format(datum.value, '.1f') : ''", "title": null}}, "text": {"field": "p"}}}
  ]}
]
}
